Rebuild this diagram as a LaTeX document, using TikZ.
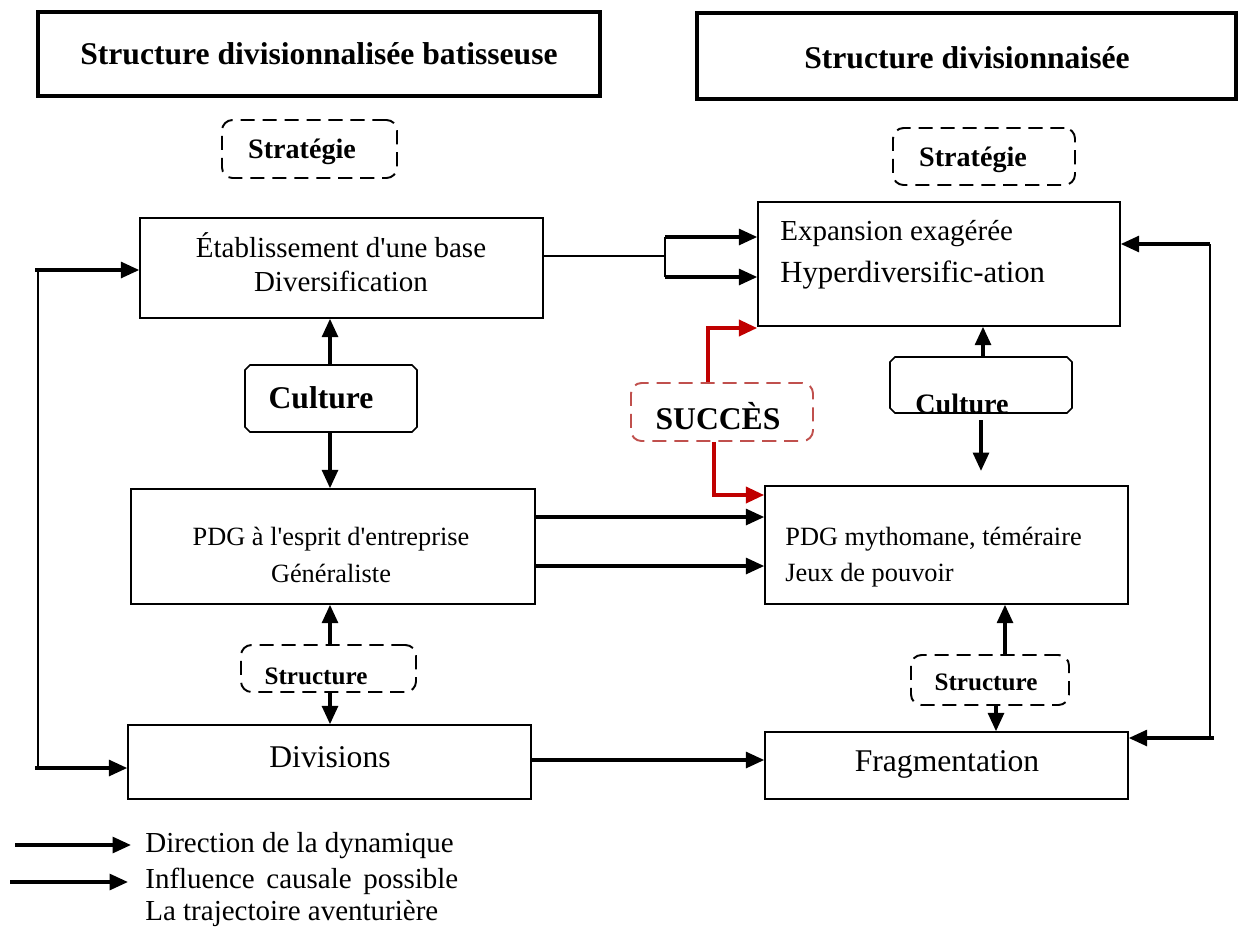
\documentclass[tikz,border=0pt]{standalone}
\usepackage{fontspec}
\setmainfont{Liberation Serif}[Ligatures=TeXOff]
\usetikzlibrary{arrows.meta,fit}
\newcommand{\fs}[1]{\fontsize{#1}{#1}\selectfont}
\definecolor{darkred}{RGB}{192,0,0}
\definecolor{softred}{RGB}{192,80,77}
\begin{document}
\begin{tikzpicture}[x=0.02cm,y=-0.02cm,
  box/.style={draw,line width=0.8pt,inner sep=0pt},
  titlebox/.style={draw,line width=2.8pt,inner sep=0pt},
  dbox/.style={draw,line width=1.1pt,dash pattern=on 8pt off 4.5pt,rounded corners=6pt,inner sep=0pt},
  rdbox/.style={dbox,draw=softred},
  ghost/.style={inner sep=0pt},
  cham/.style={draw,line width=0.9pt},
  arr/.style={line width=2pt,-{Triangle[length=10.5pt,width=9pt]}},
  redarr/.style={line width=2.4pt,draw=darkred,-{Triangle[length=10.5pt,width=9pt]}},
  txt/.style={inner sep=0pt}
]
\useasboundingbox (0,0) rectangle (1240,927);

% titles
\node[titlebox,fit={(38,12)(600,96)}] (T1) {};
\node[txt,font=\fs{18}\bfseries] (T1t) at (T1.center) {Structure divisionnalisée batisseuse};
\node[titlebox,fit={(697,13)(1236,99)}] (T2) {};
\node[txt,font=\fs{18}\bfseries] (T2t) at (967,58) {Structure divisionnaisée};

% strategy boxes
\node[dbox,fit={(222,120)(397,178)}] (S1) {};
\node[txt,font=\fs{16}\bfseries] (S1t) at (302,152) {Stratégie};
\node[dbox,fit={(893,128)(1075,185)}] (S2) {};
\node[txt,font=\fs{16}\bfseries] (S2t) at (973,160) {Stratégie};

% main boxes
\node[box,fit={(140,218)(543,318)}] (A) {};
\node[txt,font=\fs{16.5},align=center] (At) at (341,262) {Établissement d'une base\\[3pt]Diversification};
\node[box,fit={(758,202)(1120,326)}] (B) {};
\node[txt,font=\fs{16.5},anchor=west] (Bt1) at (780,234) {Expansion exagérée};
\node[txt,font=\fs{17.5},anchor=west] (Bt2) at (780,275) {Hyperdiversific-ation};

% culture boxes (chamfered)
\node[ghost,fit={(245,365)(417,432)}] (CL) {};
\draw[cham] (250,365) -- (412,365) -- (417,370) -- (417,427) -- (412,432) -- (250,432) -- (245,427) -- (245,370) -- cycle;
\node[txt,font=\fs{18}\bfseries] (CLt) at (321,398) {Culture};
\node[ghost,fit={(890,357)(1072,413)}] (CR) {};
\draw[cham] (895,357) -- (1067,357) -- (1072,362) -- (1072,408) -- (1067,413) -- (895,413) -- (890,408) -- (890,362) -- cycle;
\node[txt,font=\fs{16}\bfseries] (CRt) at (962,404) {Culture};

\node[rdbox,fit={(631,383)(813,441)}] (SU) {};
\node[txt,font=\fs{18}\bfseries] (SUt) at (718,416) {SUCCÈS};

\node[box,fit={(131,489)(535,604)}] (C) {};
\node[txt,font=\fs{15},align=center] (Ct) at (331,555) {PDG à l'esprit d'entreprise\\[6pt]Généraliste};
\node[box,fit={(765,486)(1128,604)}] (D) {};
\node[txt,font=\fs{15},anchor=west] (Dt1) at (785,539) {PDG mythomane, téméraire};
\node[txt,font=\fs{15},anchor=west] (Dt2) at (785,575) {Jeux de pouvoir};

\node[dbox,fit={(241,645)(416,692)}] (SL) {};
\node[txt,font=\fs{14.3}\bfseries] (SLt) at (316,676) {Structure};
\node[dbox,fit={(911,655)(1069,705)}] (SR) {};
\node[txt,font=\fs{14.3}\bfseries] (SRt) at (986,682) {Structure};

\node[box,fit={(128,725)(531,799)}] (E) {};
\node[txt,font=\fs{18}] (Et) at (330,757) {Divisions};
\node[box,fit={(765,732)(1128,799)}] (F) {};
\node[txt,font=\fs{18}] (Ft) at (947,764) {Fragmentation};

% A -> B
\coordinate (ab) at (665,256);
\coordinate (ab1) at (665,237);
\coordinate (ab2) at (665,277);
\draw[line width=0.8pt] (A.east |- ab) -- (ab);
\draw[line width=1.2pt] (ab1) -- (ab2);
\draw[arr] (ab1) -- (ab1 -| B.west);
\draw[arr] (ab2) -- (ab2 -| B.west);

% left column vertical arrows
\coordinate (clx) at (330,0);
\draw[arr] (CL.north -| clx) -- (clx |- A.south);
\draw[arr] (CL.south -| clx) -- (clx |- C.north);
\coordinate (slx) at (330,0);
\draw[arr] (SL.north -| slx) -- (slx |- C.south);
\draw[arr] (SL.south -| slx) -- (slx |- E.north);

% C -> D
\coordinate (cd1) at (600,517);
\coordinate (cd2) at (600,566);
\draw[arr] (C.east |- cd1) -- (D.west |- cd1);
\draw[arr] (C.east |- cd2) -- (D.west |- cd2);

% E -> F
\coordinate (ef) at (600,760);
\draw[arr] (E.east |- ef) -- (F.west |- ef);

% right column vertical arrows
\coordinate (crx) at (983,0);
\coordinate (crs) at (981,420);
\coordinate (crd) at (981,471);
\draw[arr] (CR.north -| crx) -- (crx |- B.south);
\draw[arr] (crs) -- (crd);
\coordinate (sru) at (1005,0);
\coordinate (srd) at (996,0);
\draw[arr] (SR.north -| sru) -- (sru |- D.south);
\draw[arr] (SR.south -| srd) -- (srd |- F.north);

% left loop
\coordinate (ll1) at (38,270);
\coordinate (ll2) at (38,768);
\coordinate (ll1s) at (35,270);
\coordinate (ll2s) at (35,768);
\draw[line width=1pt] (ll1) -- (ll2);
\draw[arr] (ll1s) -- (ll1 -| A.west);
\draw[arr] (ll2s) -- (ll2 -| E.west);

% right loop
\coordinate (rl1) at (1210,244);
\coordinate (rl2) at (1210,738);
\coordinate (rl2s) at (1214,738);
\draw[line width=1.4pt] (rl1) -- (rl2);
\draw[arr] (rl1) -- (rl1 -| B.east);
\draw[arr] (rl2s) -- (rl2 -| F.east);

% red success arrows
\coordinate (r1) at (708,328);
\coordinate (r2) at (714,495);
\draw[redarr] (SU.north -| r1) -- (r1) -- (r1 -| B.west);
\draw[redarr] (SU.south -| r2) -- (r2) -- (r2 -| D.west);

% legend
\coordinate (lg1a) at (15,845);
\coordinate (lg1b) at (131,845);
\coordinate (lg2a) at (10,882);
\coordinate (lg2b) at (128,882);
\draw[arr] (lg1a) -- (lg1b);
\draw[arr] (lg2a) -- (lg2b);
\node[txt,font=\fs{16.5},anchor=west] (L1) at (145,846) {Direction de la dynamique};
\node[txt,font=\fs{16.5},anchor=west] (L2) at (145,881) {Influence\hspace{0.4em}causale\hspace{0.4em}possible};
\node[txt,font=\fs{16.5},anchor=west] (L3) at (145,913) {La trajectoire aventurière};
\end{tikzpicture}
\end{document}
